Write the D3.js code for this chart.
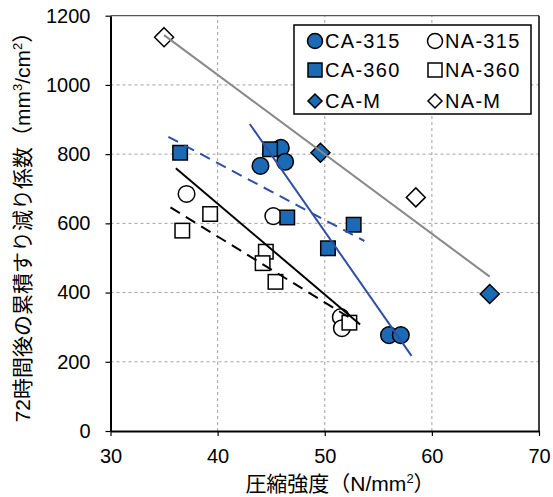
<!DOCTYPE html>
<html>
<head>
<meta charset="utf-8">
<script src="https://cdn.jsdelivr.net/npm/d3@7"></script>
<style>
  body { margin: 0; background: #fff; }
  svg { display: block; }
  text { font-family: "Liberation Sans", Arial, "Noto Sans CJK JP", sans-serif; fill: #000; }
</style>
</head>
<body>
<svg id="chart" width="553" height="497"></svg>
<script>
// Compressive strength (N/mm²) vs. 72-hour cumulative abrasion coefficient
const xTicks = [30, 40, 50, 60, 70];
const yTicks = [0, 200, 400, 600, 800, 1000, 1200];

const ca315X = [45.9, 44.0, 46.3, 56.0, 57.1];
const ca315Y = [818, 766, 778, 277, 277];
const na315X = [37.1, 45.2, 51.5, 51.6];
const na315Y = [685, 621, 329, 297];
const ca360X = [36.5, 44.9, 46.5, 52.7, 50.3];
const ca360Y = [804, 814, 617, 596, 528];
const na360X = [36.7, 39.3, 44.5, 44.2, 45.4, 52.3];
const na360Y = [579, 627, 518, 485, 431, 313];
const caMX = [49.6, 65.4];
const caMY = [804, 396];
const naMX = [35.0, 58.5];
const naMY = [1138, 675];

// Fitted trend lines: start and end (strength, coefficient)
const trendCA315 = [[43.0, 887], [58.1, 217]];
const trendCA360 = [[35.4, 850], [53.7, 549]];
const trendNA315 = [[36.1, 759], [53.3, 308]];
const trendNA360 = [[35.6, 646], [52.6, 322]];
const trendNAM = [[35.0, 1144], [65.4, 446]];

const legendLabels = ["CA-315", "NA-315", "CA-360", "NA-360", "CA-M", "NA-M"];

const blue = "#1b6ab5";
const lineBlue = "#2f4fa5";

const svg = d3.select("#chart");
const x = d3.scaleLinear().domain([30, 70]).range([110.5, 539]);
const y = d3.scaleLinear().domain([0, 1200]).range([431, 15.7]);

// grid
const grid = svg.append("g");
grid.selectAll("line.v").data(xTicks.slice(1, -1)).join("line")
  .attr("x1", d => x(d)).attr("x2", d => x(d))
  .attr("y1", y(0)).attr("y2", y(1200))
  .attr("stroke", "#a0a0a0").attr("stroke-width", 1).attr("stroke-dasharray", "3,3");
grid.selectAll("line.h").data(yTicks.slice(1, -1)).join("line")
  .attr("x1", x(30)).attr("x2", x(70))
  .attr("y1", d => y(d)).attr("y2", d => y(d))
  .attr("stroke", "#a0a0a0").attr("stroke-width", 1).attr("stroke-dasharray", "3,3");

// frame top / right
svg.append("line").attr("x1", x(30)).attr("x2", x(70)).attr("y1", y(1200)).attr("y2", y(1200))
  .attr("stroke", "#555").attr("stroke-width", 1.2);
svg.append("line").attr("x1", x(70)).attr("x2", x(70)).attr("y1", y(1200)).attr("y2", y(0))
  .attr("stroke", "#000").attr("stroke-width", 1.5);

// axes
const xAxis = svg.append("g").attr("transform", `translate(0,${y(0)})`)
  .call(d3.axisBottom(x).tickValues(xTicks).tickFormat(d3.format("d"))
    .tickSize(5).tickPadding(13).tickSizeOuter(0));
const yAxis = svg.append("g").attr("transform", `translate(${x(30)},0)`)
  .call(d3.axisLeft(y).tickValues(yTicks).tickFormat(d3.format("d"))
    .tickSize(5).tickPadding(15).tickSizeOuter(0));
[xAxis, yAxis].forEach(g => {
  g.select(".domain").attr("stroke", "#000").attr("stroke-width", 2);
  g.selectAll(".tick line").attr("stroke", "#000").attr("stroke-width", 1.2);
  g.selectAll(".tick text").attr("font-size", 20)
    .attr("font-family", "'Liberation Sans', Arial, sans-serif").attr("fill", "#000");
});

// markers
function circles(xs, ys, fill) {
  svg.append("g").selectAll("circle").data(xs.map((d, i) => [d, ys[i]])).join("circle")
    .attr("cx", d => x(d[0])).attr("cy", d => y(d[1])).attr("r", 8.3)
    .attr("fill", fill).attr("stroke", "#000").attr("stroke-width", 1.5);
}
function squares(xs, ys, fill) {
  const s = 14.5;
  svg.append("g").selectAll("rect").data(xs.map((d, i) => [d, ys[i]])).join("rect")
    .attr("x", d => x(d[0]) - s / 2).attr("y", d => y(d[1]) - s / 2)
    .attr("width", s).attr("height", s)
    .attr("fill", fill).attr("stroke", "#000").attr("stroke-width", 1.5);
}
const diamondPath = r => `M0,${-r}L${r},0L0,${r}L${-r},0Z`;
function diamonds(xs, ys, fill) {
  svg.append("g").selectAll("path").data(xs.map((d, i) => [d, ys[i]])).join("path")
    .attr("transform", d => `translate(${x(d[0])},${y(d[1])})`)
    .attr("d", diamondPath(9.5))
    .attr("fill", fill).attr("stroke", "#000").attr("stroke-width", 1.5);
}

circles(na315X, na315Y, "#fff");
squares(na360X, na360Y, "#fff");
diamonds(naMX, naMY, "#fff");
circles(ca315X, ca315Y, blue);
squares(ca360X, ca360Y, blue);
diamonds(caMX, caMY, blue);

// trend lines
const line = d3.line().x(d => x(d[0])).y(d => y(d[1]));
function trend(pts, color, dash) {
  svg.append("path").attr("d", line(pts)).attr("fill", "none")
    .attr("stroke", color).attr("stroke-width", 2)
    .attr("stroke-dasharray", dash || null);
}
trend(trendNAM, "#888888");
trend(trendNA360, "#000", "11,7");
trend(trendNA315, "#000");
trend(trendCA360, lineBlue, "11,7");
trend(trendCA315, lineBlue);

// legend
const lg = svg.append("g");
lg.append("rect").attr("x", 294).attr("y", 25).attr("width", 237).attr("height", 89)
  .attr("fill", "#fff").attr("stroke", "#000").attr("stroke-width", 1.5);
const rowsY = [41, 70, 101];
const colsX = [315, 435];
const kinds = ["circle", "circle", "square", "square", "diamond", "diamond"];
legendLabels.forEach((lab, i) => {
  const cx = colsX[i % 2], cy = rowsY[Math.floor(i / 2)];
  const fill = i % 2 === 0 ? blue : "#fff";
  if (kinds[i] === "circle") {
    lg.append("circle").attr("cx", cx).attr("cy", cy).attr("r", 7.5)
      .attr("fill", fill).attr("stroke", "#000").attr("stroke-width", 1.5);
  } else if (kinds[i] === "square") {
    lg.append("rect").attr("x", cx - 7).attr("y", cy - 7).attr("width", 14).attr("height", 14)
      .attr("fill", fill).attr("stroke", "#000").attr("stroke-width", 1.5);
  } else {
    lg.append("path").attr("transform", `translate(${cx},${cy})`).attr("d", diamondPath(7))
      .attr("fill", fill).attr("stroke", "#000").attr("stroke-width", 1.5);
  }
  lg.append("text").attr("x", cx + 10).attr("y", cy).attr("dy", "0.36em")
    .attr("font-size", 20).attr("letter-spacing", 1.3).text(lab);
});

// axis titles
const xt = svg.append("text").attr("x", 340).attr("y", 491).attr("text-anchor", "middle")
  .attr("font-size", 21);
xt.append("tspan").text("圧縮強度（N/mm");
xt.append("tspan").attr("font-size", 13).attr("dy", -8).text("2");
xt.append("tspan").attr("dy", 8).text("）");

const yt = svg.append("text").attr("transform", "translate(30,222) rotate(-90)")
  .attr("text-anchor", "middle").attr("font-size", 21);
yt.append("tspan").text("72時間後の累積すり減り係数（mm");
yt.append("tspan").attr("font-size", 13).attr("dy", -8).text("3");
yt.append("tspan").attr("dy", 8).text("/cm");
yt.append("tspan").attr("font-size", 13).attr("dy", -8).text("2");
yt.append("tspan").attr("dy", 8).text("）");
</script>
</body>
</html>
